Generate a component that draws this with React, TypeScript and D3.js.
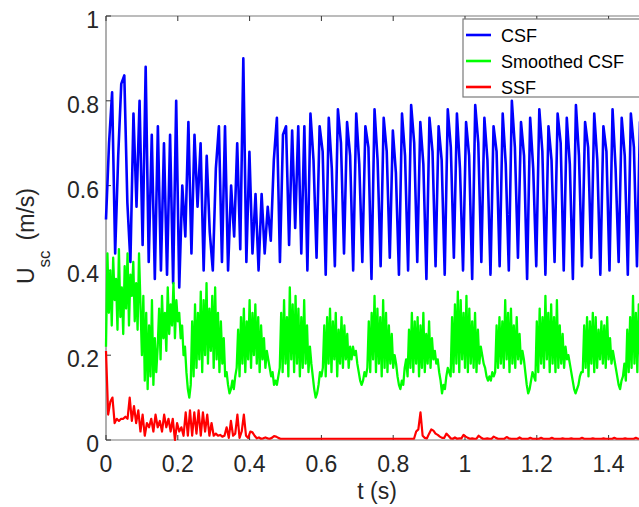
import React from "react";
import * as d3 from "d3";

// sampling steps (s) of the three series
const csfStep = 0.0085;
const smoothStep = 0.004;
const ssfStep = 0.006;

// CSF velocity (m/s)
const csf = [
  0.52, 0.7, 0.82, 0.44, 0.67, 0.84, 0.86, 0.56, 0.42, 0.77,
  0.55, 0.8, 0.46, 0.88, 0.42, 0.72, 0.38, 0.74, 0.4, 0.7,
  0.39, 0.72, 0.37, 0.8, 0.36, 0.6, 0.48, 0.75, 0.44, 0.72,
  0.55, 0.7, 0.4, 0.67, 0.49, 0.4, 0.64, 0.74, 0.42, 0.74,
  0.4, 0.6, 0.48, 0.7, 0.45, 0.9, 0.42, 0.68, 0.44, 0.58,
  0.4, 0.58, 0.44, 0.55, 0.47, 0.66, 0.76, 0.42, 0.72, 0.74,
  0.46, 0.73, 0.5, 0.74, 0.44, 0.74,
  0.4, 0.77, 0.66, 0.43, 0.74, 0.68, 0.39, 0.76, 0.64, 0.41, 0.78, 0.7,
  0.44, 0.75, 0.67, 0.4, 0.77, 0.65, 0.42, 0.74, 0.69, 0.38, 0.78, 0.66,
  0.41, 0.76, 0.68, 0.43, 0.73, 0.63, 0.39, 0.77, 0.67, 0.4, 0.79, 0.7,
  0.42, 0.75, 0.65, 0.38, 0.76, 0.68, 0.41, 0.74, 0.66, 0.39, 0.78, 0.69,
  0.43, 0.77, 0.64, 0.4, 0.75, 0.67, 0.38, 0.79, 0.7, 0.42, 0.76, 0.66,
  0.39, 0.74, 0.68, 0.41, 0.77, 0.65, 0.4, 0.8, 0.69, 0.43, 0.75, 0.67,
  0.38, 0.76, 0.64, 0.41, 0.78, 0.68, 0.39, 0.74, 0.66, 0.42, 0.77, 0.7,
  0.4, 0.76, 0.65, 0.38, 0.79, 0.67, 0.41, 0.75, 0.69, 0.43, 0.77, 0.66,
  0.39, 0.74, 0.68, 0.4, 0.78, 0.64, 0.42, 0.76, 0.67, 0.39, 0.77, 0.69,
  0.41, 0.75, 0.66, 0.41,
];

// Smoothed CSF velocity (m/s)
const smoothed = [
  0.22, 0.44, 0.3, 0.4, 0.27, 0.43, 0.33, 0.38, 0.26, 0.45, 0.29, 0.36, 0.25,
  0.41, 0.31, 0.44, 0.27, 0.39, 0.34, 0.42, 0.28, 0.37, 0.26, 0.44, 0.32,
  0.2, 0.34, 0.14, 0.3, 0.12, 0.27, 0.15, 0.33, 0.13, 0.24, 0.16,
  0.22, 0.31, 0.19, 0.34, 0.24, 0.3, 0.21, 0.36, 0.25, 0.32, 0.27, 0.37, 0.24, 0.33, 0.28,
  0.3, 0.24, 0.27, 0.2, 0.22, 0.16, 0.12, 0.1,
  0.13, 0.28, 0.15, 0.32, 0.17, 0.3, 0.19, 0.35, 0.16, 0.33, 0.2, 0.37, 0.18,
  0.31, 0.21, 0.34, 0.17, 0.36, 0.19, 0.3, 0.16, 0.28, 0.18, 0.24, 0.15, 0.16,
  0.13, 0.11, 0.12, 0.14, 0.12, 0.15,
  0.17, 0.26, 0.15, 0.29, 0.18, 0.31, 0.16, 0.28, 0.19, 0.33, 0.17,
  0.3, 0.2, 0.32, 0.18, 0.29, 0.16, 0.27, 0.19, 0.24, 0.17, 0.21,
  0.19, 0.17, 0.15, 0.16, 0.13, 0.14, 0.13, 0.15,
  0.17, 0.3, 0.16, 0.33, 0.18, 0.29, 0.15, 0.36, 0.19, 0.32, 0.16,
  0.34, 0.18, 0.31, 0.15, 0.29, 0.17, 0.33, 0.18, 0.27, 0.16, 0.22,
  0.18, 0.15, 0.12, 0.1, 0.11, 0.13, 0.16, 0.15,
  0.17, 0.27, 0.15, 0.29, 0.18, 0.31, 0.16, 0.28, 0.19, 0.3, 0.15,
  0.26, 0.18, 0.29, 0.17, 0.27, 0.19, 0.25, 0.17, 0.22, 0.19,
  0.22, 0.2, 0.21, 0.18, 0.16, 0.14, 0.13, 0.14, 0.16, 0.15,
  0.17, 0.28, 0.16, 0.3, 0.19, 0.34, 0.16, 0.31, 0.18, 0.29, 0.15,
  0.33, 0.17, 0.3, 0.16, 0.27, 0.18, 0.25, 0.17, 0.2, 0.18,
  0.15, 0.13, 0.12, 0.14, 0.13, 0.17, 0.19,
  0.15, 0.26, 0.17, 0.3, 0.16, 0.28, 0.18, 0.29, 0.15, 0.27, 0.17,
  0.3, 0.16, 0.25, 0.18, 0.28, 0.17, 0.24, 0.19, 0.21, 0.18,
  0.19, 0.16, 0.14, 0.11, 0.13, 0.12, 0.15, 0.17, 0.16,
  0.15, 0.29, 0.16, 0.32, 0.18, 0.35, 0.16, 0.33, 0.19, 0.3, 0.17,
  0.34, 0.16, 0.31, 0.18, 0.28, 0.17, 0.3, 0.16, 0.26, 0.18, 0.22,
  0.2, 0.18, 0.17, 0.15, 0.14, 0.15, 0.14, 0.16, 0.15,
  0.16, 0.27, 0.17, 0.29, 0.18, 0.28, 0.17, 0.33, 0.19, 0.3,
  0.16, 0.31, 0.18, 0.27, 0.17, 0.29, 0.19, 0.25, 0.18, 0.21,
  0.19, 0.16, 0.13, 0.11, 0.12, 0.14, 0.16, 0.15,
  0.14, 0.28, 0.16, 0.31, 0.18, 0.29, 0.17, 0.34, 0.19, 0.3, 0.16, 0.32,
  0.18, 0.29, 0.16, 0.33, 0.17, 0.27, 0.18, 0.25, 0.17, 0.22, 0.19,
  0.2, 0.18, 0.16, 0.14, 0.12, 0.11, 0.12, 0.13, 0.15, 0.16,
  0.16, 0.27, 0.17, 0.29, 0.15, 0.28, 0.18, 0.3, 0.16, 0.29, 0.17,
  0.26, 0.19, 0.28, 0.18, 0.27, 0.17, 0.29, 0.19, 0.24, 0.18,
  0.21, 0.19, 0.17, 0.15, 0.13, 0.12, 0.14, 0.15,
  0.18, 0.14, 0.26, 0.16, 0.29, 0.17, 0.34, 0.18, 0.3, 0.16, 0.32, 0.19, 0.28, 0.17, 0.3,
];

// SSF velocity (m/s)
const ssf = [
  0.21, 0.06, 0.09, 0.1, 0.04, 0.05, 0.045, 0.05, 0.05, 0.055,
  0.05, 0.1, 0.045, 0.08, 0.04, 0.07, 0.02, 0.06, 0.01, 0.04,
  0.03, 0.05, 0.02, 0.06, 0.03, 0.045, 0.02, 0.06, 0.03, 0.05,
  0.02, 0.05, 0.0, 0.04, 0.02, 0.03, 0.01, 0.065, 0.01, 0.07,
  0.01, 0.065, 0.015, 0.07, 0.01, 0.065, 0.02, 0.06, 0.01, 0.04,
  0.01, 0.015, 0.01, 0.012, 0.008, 0.01, 0.03, 0.005, 0.045, 0.01,
  0.015, 0.06, 0.005, 0.02, 0.06, 0.01, 0.005, 0.02, 0.018, 0.01,
  0.004, 0.006, 0.003, 0.004, 0.006, 0.004, 0.003, 0.005, 0.009, 0.008,
  0.005, 0.003, 0.003, 0.003, 0.003, 0.003, 0.003, 0.003, 0.003, 0.003,
  0.003, 0.003, 0.003, 0.003, 0.003, 0.003, 0.003, 0.003, 0.003, 0.003,
  0.003, 0.003, 0.003, 0.003, 0.003, 0.003, 0.003, 0.003, 0.003, 0.003,
  0.003, 0.003, 0.003, 0.003, 0.003, 0.003, 0.003, 0.003, 0.003, 0.003,
  0.003, 0.003, 0.003, 0.003, 0.003, 0.003, 0.003, 0.003, 0.003, 0.003,
  0.003, 0.003, 0.003, 0.003, 0.003, 0.003, 0.003, 0.003, 0.003, 0.003,
  0.003, 0.003, 0.003, 0.003, 0.02, 0.025, 0.065, 0.01, 0.005, 0.004,
  0.015, 0.025, 0.022, 0.015, 0.012, 0.008, 0.005, 0.005, 0.015, 0.01,
  0.004, 0.003, 0.006, 0.003, 0.004, 0.004, 0.012, 0.008, 0.005, 0.003,
  0.004, 0.003, 0.003, 0.01, 0.006, 0.003, 0.003, 0.004, 0.003, 0.003,
  0.008, 0.005, 0.003, 0.003, 0.003, 0.003, 0.007, 0.004, 0.003, 0.003,
  0.003, 0.003, 0.006, 0.003, 0.003, 0.003, 0.003, 0.005, 0.003, 0.003,
  0.003, 0.003, 0.005, 0.003, 0.003, 0.003, 0.003, 0.005, 0.003, 0.003,
  0.003, 0.003, 0.004, 0.003, 0.003, 0.003, 0.004, 0.003, 0.003, 0.003,
  0.003, 0.005, 0.003, 0.003, 0.003, 0.003, 0.004, 0.003, 0.003, 0.003,
  0.003, 0.004, 0.003, 0.003, 0.003, 0.003, 0.005, 0.003, 0.003, 0.003,
  0.003, 0.004, 0.003, 0.003, 0.003, 0.003, 0.005, 0.003, 0.003, 0.003, 0.003,
];

const xTicks = [0, 0.2, 0.4, 0.6, 0.8, 1, 1.2, 1.4];
const yTicks = [0, 0.2, 0.4, 0.6, 0.8, 1];
const legendNames = ["CSF", "Smoothed CSF", "SSF"];
const colors = ["#0000ff", "#00ff00", "#ff0000"];

const W = 639;
const H = 507;
const left = 106;
const top = 16;
const bottom = 440;
const xMax = 1.5;

export default function App() {
  const x = d3.scaleLinear().domain([0, xMax]).range([left, left + 359 * xMax]);
  const y = d3.scaleLinear().domain([0, 1]).range([bottom, top]);

  const series = [
    { values: csf, step: csfStep, width: 2.6 },
    { values: smoothed, step: smoothStep, width: 2.3 },
    { values: ssf, step: ssfStep, width: 2.2 },
  ];

  const line = (step: number) =>
    d3
      .line<number>()
      .x((d, i) => x(i * step))
      .y((d) => y(d));

  const font = "'Liberation Sans', Arial, Helvetica, sans-serif";
  const tickColor = "#262626";
  const axisColor = "#7a7a7a";
  const xRight = x(xMax);

  return (
    <svg
      width={W}
      height={H}
      style={{ position: "absolute", left: 0, top: 0, background: "#fff" }}
      fontFamily={font}
    >
      <rect x={0} y={0} width={W} height={H} fill="#fff" />

      {/* axes box */}
      <line x1={left} x2={xRight} y1={top} y2={top} stroke={axisColor} strokeWidth={1.2} />
      <line x1={left} x2={xRight} y1={bottom} y2={bottom} stroke={axisColor} strokeWidth={1.2} />
      <line x1={left} x2={left} y1={top} y2={bottom} stroke={axisColor} strokeWidth={1.2} />

      {xTicks.map((t) => (
        <g key={"x" + t}>
          <line x1={x(t)} x2={x(t)} y1={bottom} y2={bottom - 5} stroke="#333" strokeWidth={1} />
          <line x1={x(t)} x2={x(t)} y1={top} y2={top + 5} stroke="#333" strokeWidth={1} />
          <text x={x(t)} y={472} fontSize={23} fill={tickColor} textAnchor="middle">
            {String(t)}
          </text>
        </g>
      ))}
      {yTicks.map((t) => (
        <g key={"y" + t}>
          <line x1={left} x2={left + 5} y1={y(t)} y2={y(t)} stroke="#333" strokeWidth={1} />
          <text x={99} y={y(t) + 12} fontSize={23} fill={tickColor} textAnchor="end">
            {String(t)}
          </text>
        </g>
      ))}

      {/* data */}
      {series.map((s, k) => (
        <path
          key={k}
          d={line(s.step)(s.values) || ""}
          fill="none"
          stroke={colors[k]}
          strokeWidth={s.width}
          strokeLinejoin="round"
        />
      ))}

      {/* axis labels */}
      <text x={377} y={499} fontSize={23} fill={tickColor} textAnchor="middle">
        t (s)
      </text>
      <text
        x={34}
        y={284}
        fontSize={23}
        fill={tickColor}
        transform="rotate(-90, 34, 284)"
      >
        U
        <tspan fontSize={17} dy={16}>
          sc
        </tspan>
        <tspan dy={-16} dx={10}>
          (m/s)
        </tspan>
      </text>

      {/* legend */}
      <g>
        <rect x={463} y={19} width={200} height={78} fill="#fff" stroke="#7a7a7a" strokeWidth={1.2} />
        {legendNames.map((name, i) => {
          const cy = 35 + i * 26;
          return (
            <g key={name}>
              <line x1={466} x2={491} y1={cy} y2={cy} stroke={colors[i]} strokeWidth={2.6} />
              <text x={501} y={cy + 6.5} fontSize={18} fill="#000">
                {name}
              </text>
            </g>
          );
        })}
      </g>
    </svg>
  );
}
